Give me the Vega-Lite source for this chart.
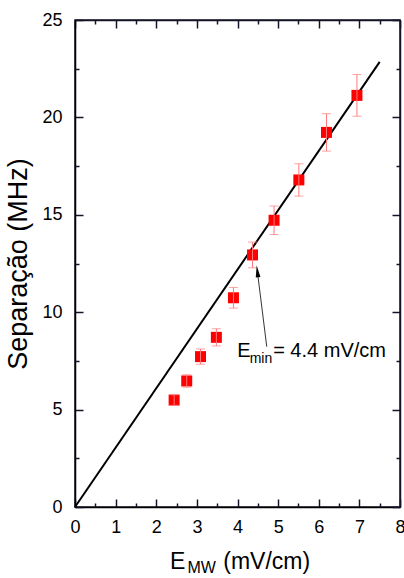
{
  "$schema": "https://vega.github.io/schema/vega-lite/v6.json",
  "width": 325,
  "height": 487,
  "autosize": "none",
  "padding": {"left": 75, "top": 20, "right": 4, "bottom": 71},
  "background": "white",
  "config": {
    "view": {"stroke": "#141428", "strokeWidth": 1.5},
    "font": "Liberation Sans",
    "axis": {"grid": false, "labelFlush": false, "labelFont": "Liberation Sans", "titleFont": "Liberation Sans"}
  },
  "datasets": {
    "fit": [{"x": 0, "y": 0}, {"x": 7.5, "y": 22.85}],
    "pts": [
      {"x": 2.44, "y": 5.49, "err": 0.27},
      {"x": 2.75, "y": 6.47, "err": 0.32},
      {"x": 3.09, "y": 7.72, "err": 0.39},
      {"x": 3.48, "y": 8.71, "err": 0.44},
      {"x": 3.9, "y": 10.74, "err": 0.53},
      {"x": 4.37, "y": 12.94, "err": 0.66},
      {"x": 4.9, "y": 14.72, "err": 0.73},
      {"x": 5.51, "y": 16.79, "err": 0.83},
      {"x": 6.19, "y": 19.23, "err": 0.96},
      {"x": 6.94, "y": 21.13, "err": 1.07}
    ],
    "arrow": [{"x": 4.72, "y": 8.23}, {"x": 4.49, "y": 12.08}],
    "head": [{"x": 4.49, "y": 12.1}]
  },
  "layer": [
    {
      "data": {"name": "fit"},
      "mark": {"type": "line", "color": "black", "strokeWidth": 2},
      "encoding": {
        "x": {"field": "x", "type": "quantitative", "scale": {"domain": [0, 8], "nice": false},
          "axis": {"orient": "bottom", "values": [0, 1, 2, 3, 4, 5, 6, 7, 8], "domainColor": "black", "domainWidth": 1.5, "tickColor": "#141428", "tickWidth": 1.5, "tickSize": -8, "labelColor": "black", "labelFontSize": 18, "labelPadding": 19, "title": null}},
        "y": {"field": "y", "type": "quantitative", "scale": {"domain": [0, 25], "nice": false},
          "axis": {"orient": "left", "values": [0, 5, 10, 15, 20, 25], "domainColor": "black", "domainWidth": 1.5, "tickColor": "#141428", "tickWidth": 1.5, "tickSize": -8, "labelColor": "black", "labelFontSize": 18, "labelPadding": 21, "title": "Separação (MHz)", "titleColor": "black", "titleFontSize": 27, "titleFontWeight": "normal", "titlePadding": 9}}
      }
    },
    {
      "data": {"name": "pts"},
      "mark": {"type": "point", "shape": "square", "filled": true, "color": "#ff0000", "opacity": 1, "size": 121},
      "encoding": {
        "x": {"field": "x", "type": "quantitative", "scale": {"domain": [0, 8], "nice": false},
          "axis": {"orient": "top", "values": [0, 1, 2, 3, 4, 5, 6, 7, 8], "domainColor": "#141428", "domainWidth": 1.5, "tickColor": "#141428", "tickWidth": 1.5, "tickSize": -8, "labels": false, "title": null}},
        "y": {"field": "y", "type": "quantitative", "scale": {"domain": [0, 25], "nice": false},
          "axis": {"orient": "right", "values": [0, 5, 10, 15, 20, 25], "domainColor": "#141428", "domainWidth": 1.5, "tickColor": "#141428", "tickWidth": 1.5, "tickSize": -8, "labels": false, "title": null}}
      }
    },
    {
      "data": {"name": "pts"},
      "mark": {"type": "errorbar", "ticks": {"size": 9, "color": "#ff7a7a", "strokeWidth": 1}, "rule": {"color": "#ff7a7a", "strokeWidth": 1}},
      "encoding": {
        "x": {"field": "x", "type": "quantitative", "scale": {"domain": [0, 8], "nice": false}, "axis": null},
        "y": {"field": "y", "type": "quantitative", "scale": {"domain": [0, 25], "nice": false}, "axis": null},
        "yError": {"field": "err"}
      }
    },
    {
      "data": {"name": "arrow"},
      "mark": {"type": "line", "color": "black", "strokeWidth": 0.8},
      "encoding": {
        "x": {"field": "x", "type": "quantitative", "scale": {"domain": [0, 8], "nice": false},
          "axis": {"orient": "bottom", "values": [0.5, 1.5, 2.5, 3.5, 4.5, 5.5, 6.5, 7.5], "tickColor": "#141428", "tickWidth": 1.5, "tickSize": -4, "labels": false, "domain": false, "title": null}},
        "y": {"field": "y", "type": "quantitative", "scale": {"domain": [0, 25], "nice": false},
          "axis": {"orient": "left", "values": [2.5, 7.5, 12.5, 17.5, 22.5], "tickColor": "#141428", "tickWidth": 1.5, "tickSize": -4, "labels": false, "domain": false, "title": null}}
      }
    },
    {
      "data": {"name": "head"},
      "mark": {"type": "point", "shape": "M0,-1L0.4,1L-0.4,1Z", "filled": true, "color": "black", "opacity": 1, "size": 140, "angle": -7},
      "encoding": {
        "x": {"field": "x", "type": "quantitative", "scale": {"domain": [0, 8], "nice": false},
          "axis": {"orient": "top", "values": [0.5, 1.5, 2.5, 3.5, 4.5, 5.5, 6.5, 7.5], "tickColor": "#141428", "tickWidth": 1.5, "tickSize": -4, "labels": false, "domain": false, "title": null}},
        "y": {"field": "y", "type": "quantitative", "scale": {"domain": [0, 25], "nice": false},
          "axis": {"orient": "right", "values": [2.5, 7.5, 12.5, 17.5, 22.5], "tickColor": "#141428", "tickWidth": 1.5, "tickSize": -4, "labels": false, "domain": false, "title": null}}
      }
    },
    {
      "data": {"values": [{"x": 3.995, "y": 7.68, "t": "E"}, {"x": 4.877, "y": 7.68, "t": "= 4.4 mV/cm"}]},
      "mark": {"type": "text", "align": "left", "baseline": "alphabetic", "fontSize": 20, "color": "black"},
      "encoding": {
        "x": {"field": "x", "type": "quantitative", "scale": {"domain": [0, 8], "nice": false}, "axis": null},
        "y": {"field": "y", "type": "quantitative", "scale": {"domain": [0, 25], "nice": false}, "axis": null},
        "text": {"field": "t"}
      }
    },
    {
      "data": {"values": [{"x": 4.3, "y": 7.39, "t": "min"}]},
      "mark": {"type": "text", "align": "left", "baseline": "alphabetic", "fontSize": 14, "color": "black"},
      "encoding": {
        "x": {"field": "x", "type": "quantitative", "scale": {"domain": [0, 8], "nice": false}, "axis": null},
        "y": {"field": "y", "type": "quantitative", "scale": {"domain": [0, 25], "nice": false}, "axis": null},
        "text": {"field": "t"}
      }
    },
    {
      "data": {"values": [{"x": 2.34, "y": -3.18, "t": "E"}, {"x": 3.65, "y": -3.18, "t": "(mV/cm)"}]},
      "mark": {"type": "text", "align": "left", "baseline": "alphabetic", "fontSize": 23, "color": "black"},
      "encoding": {
        "x": {"field": "x", "type": "quantitative", "scale": {"domain": [0, 8], "nice": false}, "axis": null},
        "y": {"field": "y", "type": "quantitative", "scale": {"domain": [0, 25], "nice": false}, "axis": null},
        "text": {"field": "t"}
      }
    },
    {
      "data": {"values": [{"x": 2.77, "y": -3.39, "t": "MW"}]},
      "mark": {"type": "text", "align": "left", "baseline": "alphabetic", "fontSize": 16, "color": "black"},
      "encoding": {
        "x": {"field": "x", "type": "quantitative", "scale": {"domain": [0, 8], "nice": false}, "axis": null},
        "y": {"field": "y", "type": "quantitative", "scale": {"domain": [0, 25], "nice": false}, "axis": null},
        "text": {"field": "t"}
      }
    }
  ],
  "resolve": {"axis": {"x": "independent", "y": "independent"}}
}
